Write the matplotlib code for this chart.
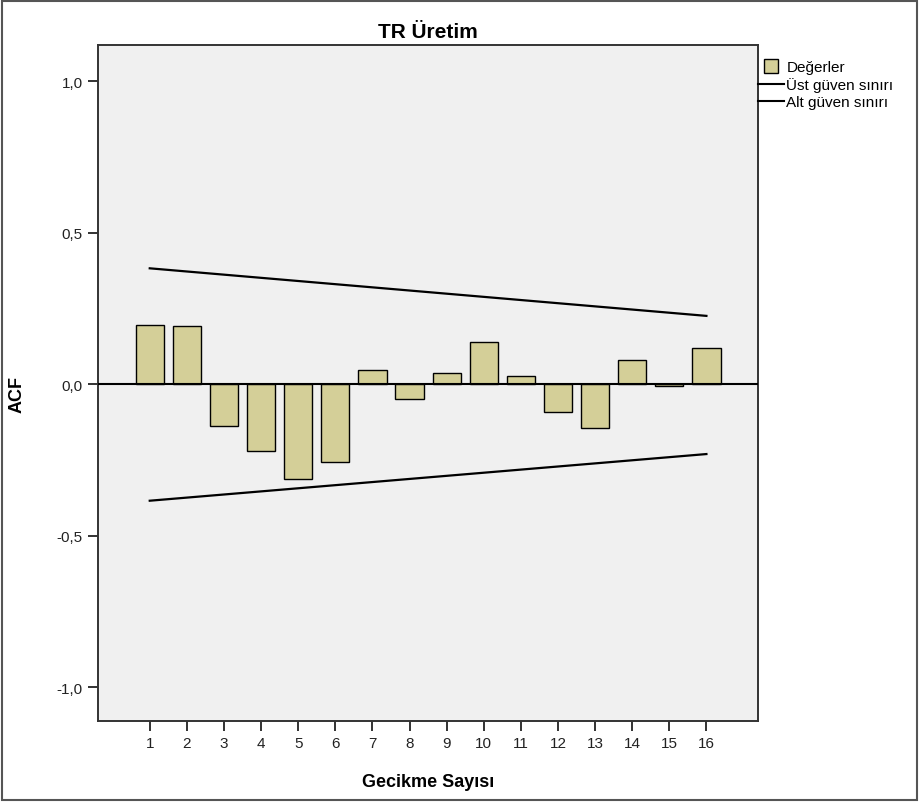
import matplotlib.pyplot as plt
from matplotlib.lines import Line2D
from matplotlib.patches import Rectangle

plt.rcParams['font.family'] = ['Liberation Sans', 'DejaVu Sans']

# ACF values
lags = [1, 2, 3, 4, 5, 6, 7, 8, 9, 10, 11, 12, 13, 14, 15, 16]
acf = [0.195, 0.193, -0.140, -0.221, -0.314, -0.258, 0.048, -0.050,
       0.038, 0.140, 0.025, -0.093, -0.146, 0.078, -0.005, 0.119]

# confidence limits (end points of the straight lines)
limit_lags = [1, 16]
upper = [0.382, 0.225]
lower = [-0.385, -0.231]

yticks = [-1.0, -0.5, 0.0, 0.5, 1.0]
ylabels = ['-1,0', '-0,5', '0,0', '0,5', '1,0']

bar_color = '#D4CF98'

W, H = 919, 803
fig = plt.figure(figsize=(W / 100, H / 100), dpi=100)
# axes box in pixels: x 98..758, y 46..722
ax = fig.add_axes([98 / W, 1 - 722 / H, 660 / W, 676 / H])
ax.set_facecolor('#F0F0F0')

ax.bar(lags, acf, width=0.76, color=bar_color, edgecolor='black', linewidth=1.0, zorder=2)
ax.axhline(0, color='black', linewidth=1.5, zorder=3)
ax.plot(limit_lags, upper, color='black', linewidth=1.6, zorder=3)
ax.plot(limit_lags, lower, color='black', linewidth=1.6, zorder=3)

ax.set_xlim(-0.394, 17.39)
ax.set_ylim(-1.112, 1.119)
ax.set_xticks(lags)
ax.set_xticklabels([str(l) for l in lags])
ax.set_yticks(yticks)
ax.set_yticklabels(ylabels)
ax.tick_params(direction='out', length=7.5, width=1.3, labelsize=11, colors='#222222')
ax.tick_params(axis='x', pad=3)
for s in ax.spines.values():
    s.set_color('#333333')
    s.set_linewidth(1.4)

# titles placed in figure pixels like the reference
fig.text(428 / W, 1 - 32 / H, 'TR Üretim', fontsize=15, fontweight='bold', ha='center', va='center')
fig.text(428 / W, 1 - 783 / H, 'Gecikme Sayısı', fontsize=13, fontweight='bold', ha='center', va='center')
fig.text(17 / W, 1 - 395 / H, 'ACF', fontsize=13, fontweight='bold', ha='center', va='center', rotation=90)

handles = [
    Line2D([], [], linestyle='none', marker='s', markersize=10,
           markerfacecolor=bar_color, markeredgecolor='black', markeredgewidth=1.0),
    Line2D([], [], color='black', linewidth=1.5),
    Line2D([], [], color='black', linewidth=1.5),
]
fig.legend(handles, ['Değerler', 'Üst güven sınırı', 'Alt güven sınırı'],
           loc='upper left', bbox_to_anchor=(758 / W, 1 - 61 / H), frameon=False,
           fontsize=11, handlelength=1.7, handletextpad=0.15, labelspacing=0.2,
           borderaxespad=0, borderpad=0)

# outer border of the picture
fig.patches.append(Rectangle((0.002, 0.002), 0.996, 0.996, transform=fig.transFigure,
                             fill=False, edgecolor='#555555', linewidth=1.5))

plt.savefig('out.png', dpi=100)
